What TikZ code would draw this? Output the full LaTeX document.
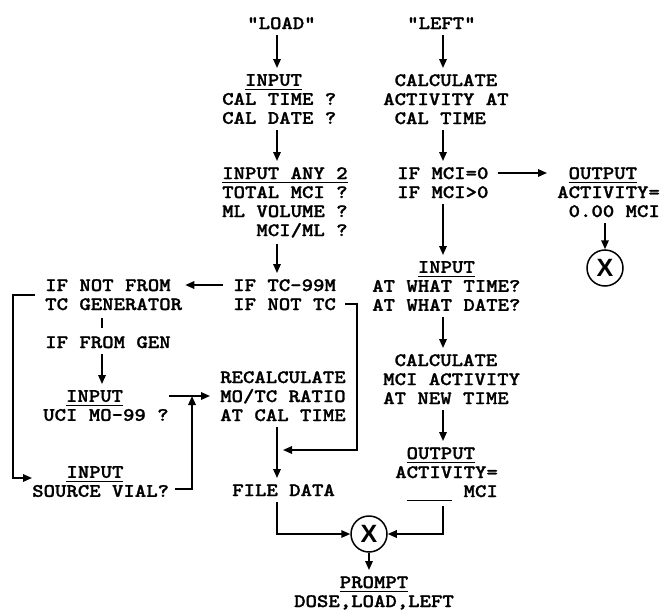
\documentclass[tikz,border=0pt]{standalone}
\usepackage{fontspec}
\newfontfamily\xfont{Liberation Sans}
\newfontfamily\monob{lmmonolt10-bold.otf}[FakeBold=1.2]
\usetikzlibrary{arrows.meta}
\newcommand{\undr}[1]{\setbox0=\hbox{#1}\rlap{\rule[-4pt]{\wd0}{1.3pt}}\box0}
\tikzset{
  txt/.style={anchor=north west, align=left, xscale=1.143,
    font=\monob\fontsize{19}{19}\selectfont},
  circ/.style={circle, draw, line width=1.5pt, minimum size=36pt,
    font=\xfont\bfseries\fontsize{25}{25}\selectfont},
  flow/.style={line width=1.6pt, -{Triangle[length=9pt,width=7.5pt]}},
  gap/.style={shorten <=6pt, shorten >=6pt}
}
\begin{document}
\begin{tikzpicture}[x=1pt,y=1pt]
        \tikzstyle{every node}+=[inner sep=0pt]
        \useasboundingbox (0,0) rectangle (663,-610);
        \coordinate (colA) at (277,0);
        \coordinate (colB) at (443,0);
        \coordinate (colL) at (102,0);
        \node[txt] (load) at (247,-17) {"LOAD"};
        \node[txt] (left) at (407,-17) {"LEFT"};
        \node[txt] (calin) at (222,-74) {~~\undr{INPUT}\\CAL~TIME~?\\CAL~DATE~?};
        \node[txt] (calc1) at (383,-74) {~CALCULATE\\ACTIVITY~AT\\~CAL~TIME};
        \node[txt] (anyin) at (222,-167) {\undr{INPUT~ANY~2}\\TOTAL~MCI~?\\ML~VOLUME~?\\~~~MCI/ML~?};
        \node[txt] (mci) at (397,-167) {IF~MCI=0\\IF~MCI>0};
        \node[txt] (out0) at (557,-167) {~\undr{OUTPUT}\\ACTIVITY=\\~0.00~MCI};
        \node[circ] (xa) at (605,-268) {X};
        \node[txt] (gen) at (45,-279) {IF~NOT~FROM\\TC~GENERATOR};
        \node[txt] (tcq) at (233,-279) {IF~TC-99M\\IF~NOT~TC};
        \node[txt] (whatin) at (372,-261) {~~~~\undr{INPUT}\\AT~WHAT~TIME?\\AT~WHAT~DATE?};
        \node[txt] (fromgen) at (45,-336) {IF~FROM~GEN};
        \node[txt] (calc2) at (383,-354) {~CALCULATE\\MCI~ACTIVITY\\AT~NEW~TIME};
        \node[txt] (recalc) at (220,-371) {RECALCULATE\\MO/TC~RATIO\\AT~CAL~TIME};
        \node[txt] (ucin) at (43,-390) {~~\undr{INPUT}\\UCI~MO-99~?};
        \node[txt] (out1) at (395,-447) {~\undr{OUTPUT}\\ACTIVITY=\\~\undr{\phantom{XXXX}}~MCI};
        \node[txt] (vialin) at (32,-466) {~~~\undr{INPUT}\\SOURCE~VIAL?};
        \node[txt] (file) at (232,-484) {FILE~DATA};
        \node[circ] (xb) at (369,-534) {X};
        \node[txt, anchor=north, align=center] (prompt) at (374,-576) {\undr{PROMPT}\\DOSE,LOAD,LEFT};
        \coordinate (rc2) at ([xshift=-10pt,yshift=-25pt]recalc.north west);
        \coordinate (jn) at (rc2 -| 192,0);
        \coordinate (mrg) at (colA |- 0,-450);
        \draw[flow,gap] (load.south -| colA) -- (calin.north -| colA);
        \draw[flow,gap] (calin.south -| colA) -- (anyin.north -| colA);
        \draw[flow,gap] (anyin.south -| colA) -- (tcq.north -| colA);
        \draw[flow] ([xshift=-10pt,yshift=-6pt]tcq.north west) -- ([xshift=3pt,yshift=-6pt]gen.north east);
        \draw[flow,shorten >=6pt] ([xshift=9pt,yshift=-25pt]tcq.north east) -- ++(12,0) |- (mrg);
        \draw[line width=1.6pt,shorten <=8pt,shorten >=8pt] (gen.south -| colL) -- (fromgen.north -| colL);
        \draw[flow,gap] (fromgen.south -| colL) -- (ucin.north -| colL);
        \draw[flow] (ucin.north east |- rc2) -- (rc2);
        \draw[flow] ([xshift=6pt,yshift=-23pt]vialin.north east) -| (jn);
        \draw[flow] ([xshift=-10pt,yshift=-16pt]gen.north west) -- ++(-22,0) |- ([yshift=-12pt]vialin.north west);
        \draw[flow,gap] (recalc.south -| colA) -- (file.north -| colA);
        \draw[flow,shorten <=6pt] (file.south -| colA) |- (xb.west);
        \draw[flow,gap] (left.south -| colB) -- (calc1.north -| colB);
        \draw[flow,gap] (calc1.south -| colB) -- (mci.north -| colB);
        \draw[flow] ([xshift=9pt,yshift=-6pt]mci.north east) -- ([xshift=-10pt,yshift=-6pt]out0.north west);
        \draw[flow,gap] (mci.south -| colB) -- (whatin.north -| colB);
        \draw[flow,shorten <=6pt] (out0.south -| xa) -- (xa.north);
        \draw[flow,gap] (whatin.south -| colB) -- (calc2.north -| colB);
        \draw[flow,gap] (calc2.south -| colB) -- (out1.north -| colB);
        \draw[flow,shorten <=5pt] (out1.south -| colB) |- (xb.east);
        \draw[flow,shorten >=6pt] (xb.south) -- (xb.south |- prompt.north);
\end{tikzpicture}
\end{document}
